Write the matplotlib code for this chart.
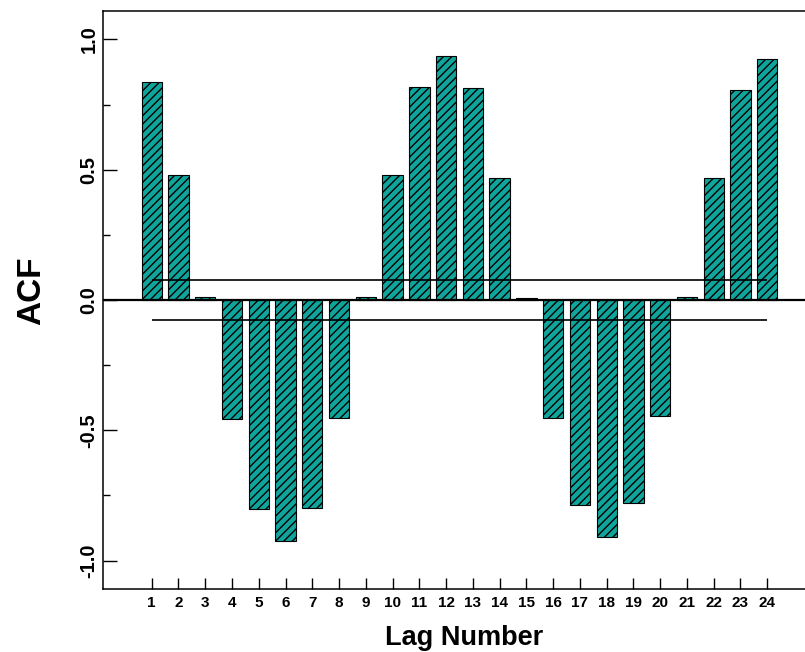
# Import necessary libraries
import matplotlib
matplotlib.use('Agg')
import matplotlib.pyplot as plt

# Data
lags = list(range(1, 25))
acf = [0.838, 0.480, 0.013, -0.457, -0.802, -0.925, -0.798, -0.453,
       0.012, 0.480, 0.817, 0.936, 0.813, 0.468, 0.006, -0.453,
       -0.787, -0.909, -0.779, -0.445, 0.010, 0.467, 0.806, 0.925]
conf_upper = 0.078
conf_lower = -0.078
y_ticks = [-1.0, -0.5, 0.0, 0.5, 1.0]
y_ticklabels = ['-1.0', '-0.5', '0.0', '0.5', '1.0']

plt.rcParams['font.family'] = ['Liberation Sans', 'DejaVu Sans']
plt.rcParams['hatch.linewidth'] = 1.0

# Set up the figure and axes
fig = plt.figure(figsize=(8.05, 6.52), dpi=100)
ax = fig.add_axes([0.1276, 0.0971, 0.8724, 0.886])

# Hatched bar chart
ax.bar(lags, acf, width=0.76, color='#10a59c', edgecolor='black',
       linewidth=0.8, hatch='////', zorder=2)

# Zero line and confidence limits
ax.axhline(0, color='black', linewidth=1.6, zorder=3)
ax.hlines([conf_upper, conf_lower], lags[0], lags[-1], color='black',
          linewidth=1.2, zorder=3)

# Axis limits and ticks
ax.set_xlim(-0.83, 25.41)
ax.set_ylim(-1.108, 1.109)
ax.set_xticks(lags)
ax.set_xticklabels([str(l) for l in lags], fontsize=11, fontweight='bold')
ax.set_yticks(y_ticks)
ax.set_yticks([-0.75, -0.25, 0.25, 0.75], minor=True)
ax.set_yticklabels(y_ticklabels, fontsize=14.5, fontweight='bold',
                   rotation=90, va='center')
ax.tick_params(axis='y', which='major', direction='in', length=10, width=1.0, pad=3)
ax.tick_params(axis='y', which='minor', direction='in', length=5, width=1.0)
ax.tick_params(axis='x', direction='in', length=8, width=1.0, pad=5)

# Spines
ax.spines['right'].set_visible(False)
for side in ['left', 'top', 'bottom']:
    ax.spines[side].set_linewidth(1.1)

# Axis labels
fig.text(40 / 805, 1 - 291 / 652, 'ACF', rotation=90, rotation_mode='anchor',
         ha='center', va='baseline', fontsize=24, fontweight='bold')
fig.text(464 / 805, 1 - 645 / 652, 'Lag Number', ha='center', va='baseline',
         fontsize=19.5, fontweight='bold')

# Save the figure
fig.savefig('out.png', dpi=100)
